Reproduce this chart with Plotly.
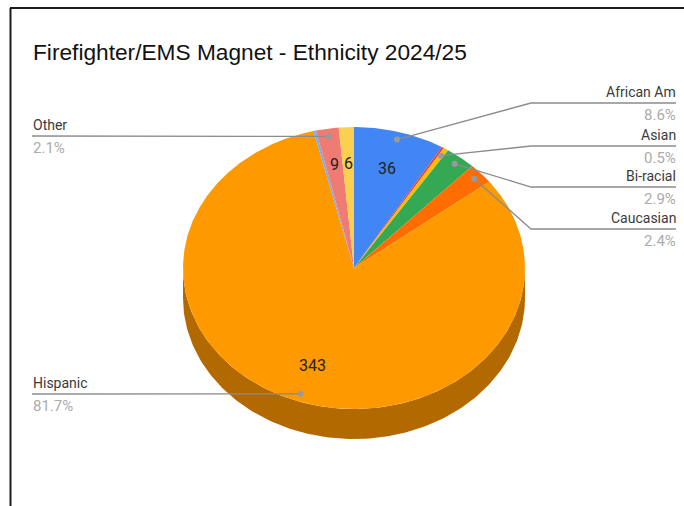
import numpy as np
import plotly.graph_objects as go

TITLE = "Firefighter/EMS Magnet - Ethnicity 2024/25"
categories = ["African Am", "Unlabelled A", "Asian", "Bi-racial", "Caucasian",
              "Hispanic", "Unlabelled B", "Other", "Unlabelled C"]
values = [36, 1, 2, 12, 10, 343, 1, 9, 6]
colors = ["#4285f4", "#ea4335", "#fbbc04", "#34a853", "#ff6d01",
          "#ff9900", "#7baaf7", "#f07b72", "#fcd04f"]
side_colors = ["#2e5daa", "#a32e25", "#af8302", "#247538", "#b24c00",
               "#b26a00", "#5677ac", "#a8564f", "#b09137"]
labelled = {"African Am": (103, "right"), "Asian": (146, "right"),
            "Bi-racial": (187, "right"), "Caucasian": (229, "right"),
            "Hispanic": (394, "left"), "Other": (136, "left")}
inside_values = {"African Am": 0.735, "Other": 0.745,
                 "Unlabelled C": 0.745, "Hispanic": 0.73}

CX, CY, RX, RY, DEPTH = 354, 268, 171, 141, 30
total = sum(values)
fracs = np.cumsum([0] + values) / total * 2 * np.pi


def pt(theta, r=1.0):
    return CX + RX * r * np.sin(theta), CY - RY * r * np.cos(theta)


fig = go.Figure()

# extruded side of the pie: only the front half of the rim is visible
for i, name in enumerate(categories):
    a, b = max(fracs[i], np.pi / 2), min(fracs[i + 1], 3 * np.pi / 2)
    if b <= a:
        continue
    t = np.linspace(a, b, 160)
    x, y = pt(t)
    fig.add_trace(go.Scatter(
        x=np.r_[x, x[::-1]], y=np.r_[y, y[::-1] + DEPTH], fill="toself", mode="lines",
        line=dict(width=0), fillcolor=side_colors[i], hoverinfo="skip", showlegend=False))

# top face
for i, name in enumerate(categories):
    t = np.linspace(fracs[i], fracs[i + 1], max(4, int(values[i] * 2)))
    x, y = pt(t)
    fig.add_trace(go.Scatter(
        x=np.r_[CX, x, CX], y=np.r_[CY, y, CY], fill="toself", mode="lines",
        line=dict(width=0), fillcolor=colors[i], name=name, hoverinfo="skip", showlegend=False))

annotations = []
LEFT_X, RIGHT_X, ELBOW_X = 32, 676, 531
for i, name in enumerate(categories):
    mid = (fracs[i] + fracs[i + 1]) / 2
    if name in labelled:
        ly, side = labelled[name]
        dx, dy = pt(mid, 0.945)
        if side == "right":
            lx, ly_x = [dx, ELBOW_X, RIGHT_X], [dy, ly, ly]
            tx, anc = RIGHT_X + 1.5, "right"
        else:
            lx, ly_x = [dx, LEFT_X], [dy, ly]
            tx, anc = LEFT_X - 1, "left"
        fig.add_trace(go.Scatter(x=lx, y=ly_x, mode="lines", line=dict(color="#8c8c8c", width=1.3),
                                 hoverinfo="skip", showlegend=False))
        fig.add_trace(go.Scatter(x=[dx], y=[dy], mode="markers",
                                 marker=dict(color="#9a9a9a", size=6), hoverinfo="skip", showlegend=False))
        annotations.append(dict(x=tx, y=ly - 1, text=name, xanchor=anc, yanchor="bottom", showarrow=False,
                                font=dict(family="Roboto", size=14, color="#3a3a3a")))
        annotations.append(dict(x=tx, y=ly + 1, text=f"{values[i] / total * 100:.1f}%", xanchor=anc,
                                yanchor="top", showarrow=False,
                                font=dict(family="Roboto", size=15, color="#ababab")))
    if name in inside_values:
        tx, ty = pt(mid, inside_values[name])
        annotations.append(dict(x=tx, y=ty, text=str(values[i]), showarrow=False,
                                font=dict(family="Roboto", size=16, color="#222222")))

frame = dict(color="#1c1c1c", width=2)
fig.update_layout(
    width=684, height=506, margin=dict(l=0, r=0, t=0, b=0),
    paper_bgcolor="white", plot_bgcolor="white",
    title=dict(text=TITLE, x=33 / 684, xanchor="left", y=1 - 52 / 506, yanchor="middle",
               font=dict(family="Liberation Sans", size=22.7, color="#111111")),
    xaxis=dict(range=[0, 684], visible=False, fixedrange=True),
    yaxis=dict(range=[506, 0], visible=False, fixedrange=True),
    annotations=annotations,
    shapes=[dict(type="line", x0=10.5, x1=10.5, y0=8, y1=506, line=frame),
            dict(type="line", x0=10, x1=684, y0=8, y1=8, line=frame)],
)
fig.write_html("out.html", config=dict(displayModeBar=False),
               post_script="document.body.style.margin='0';document.body.style.overflow='hidden';")
